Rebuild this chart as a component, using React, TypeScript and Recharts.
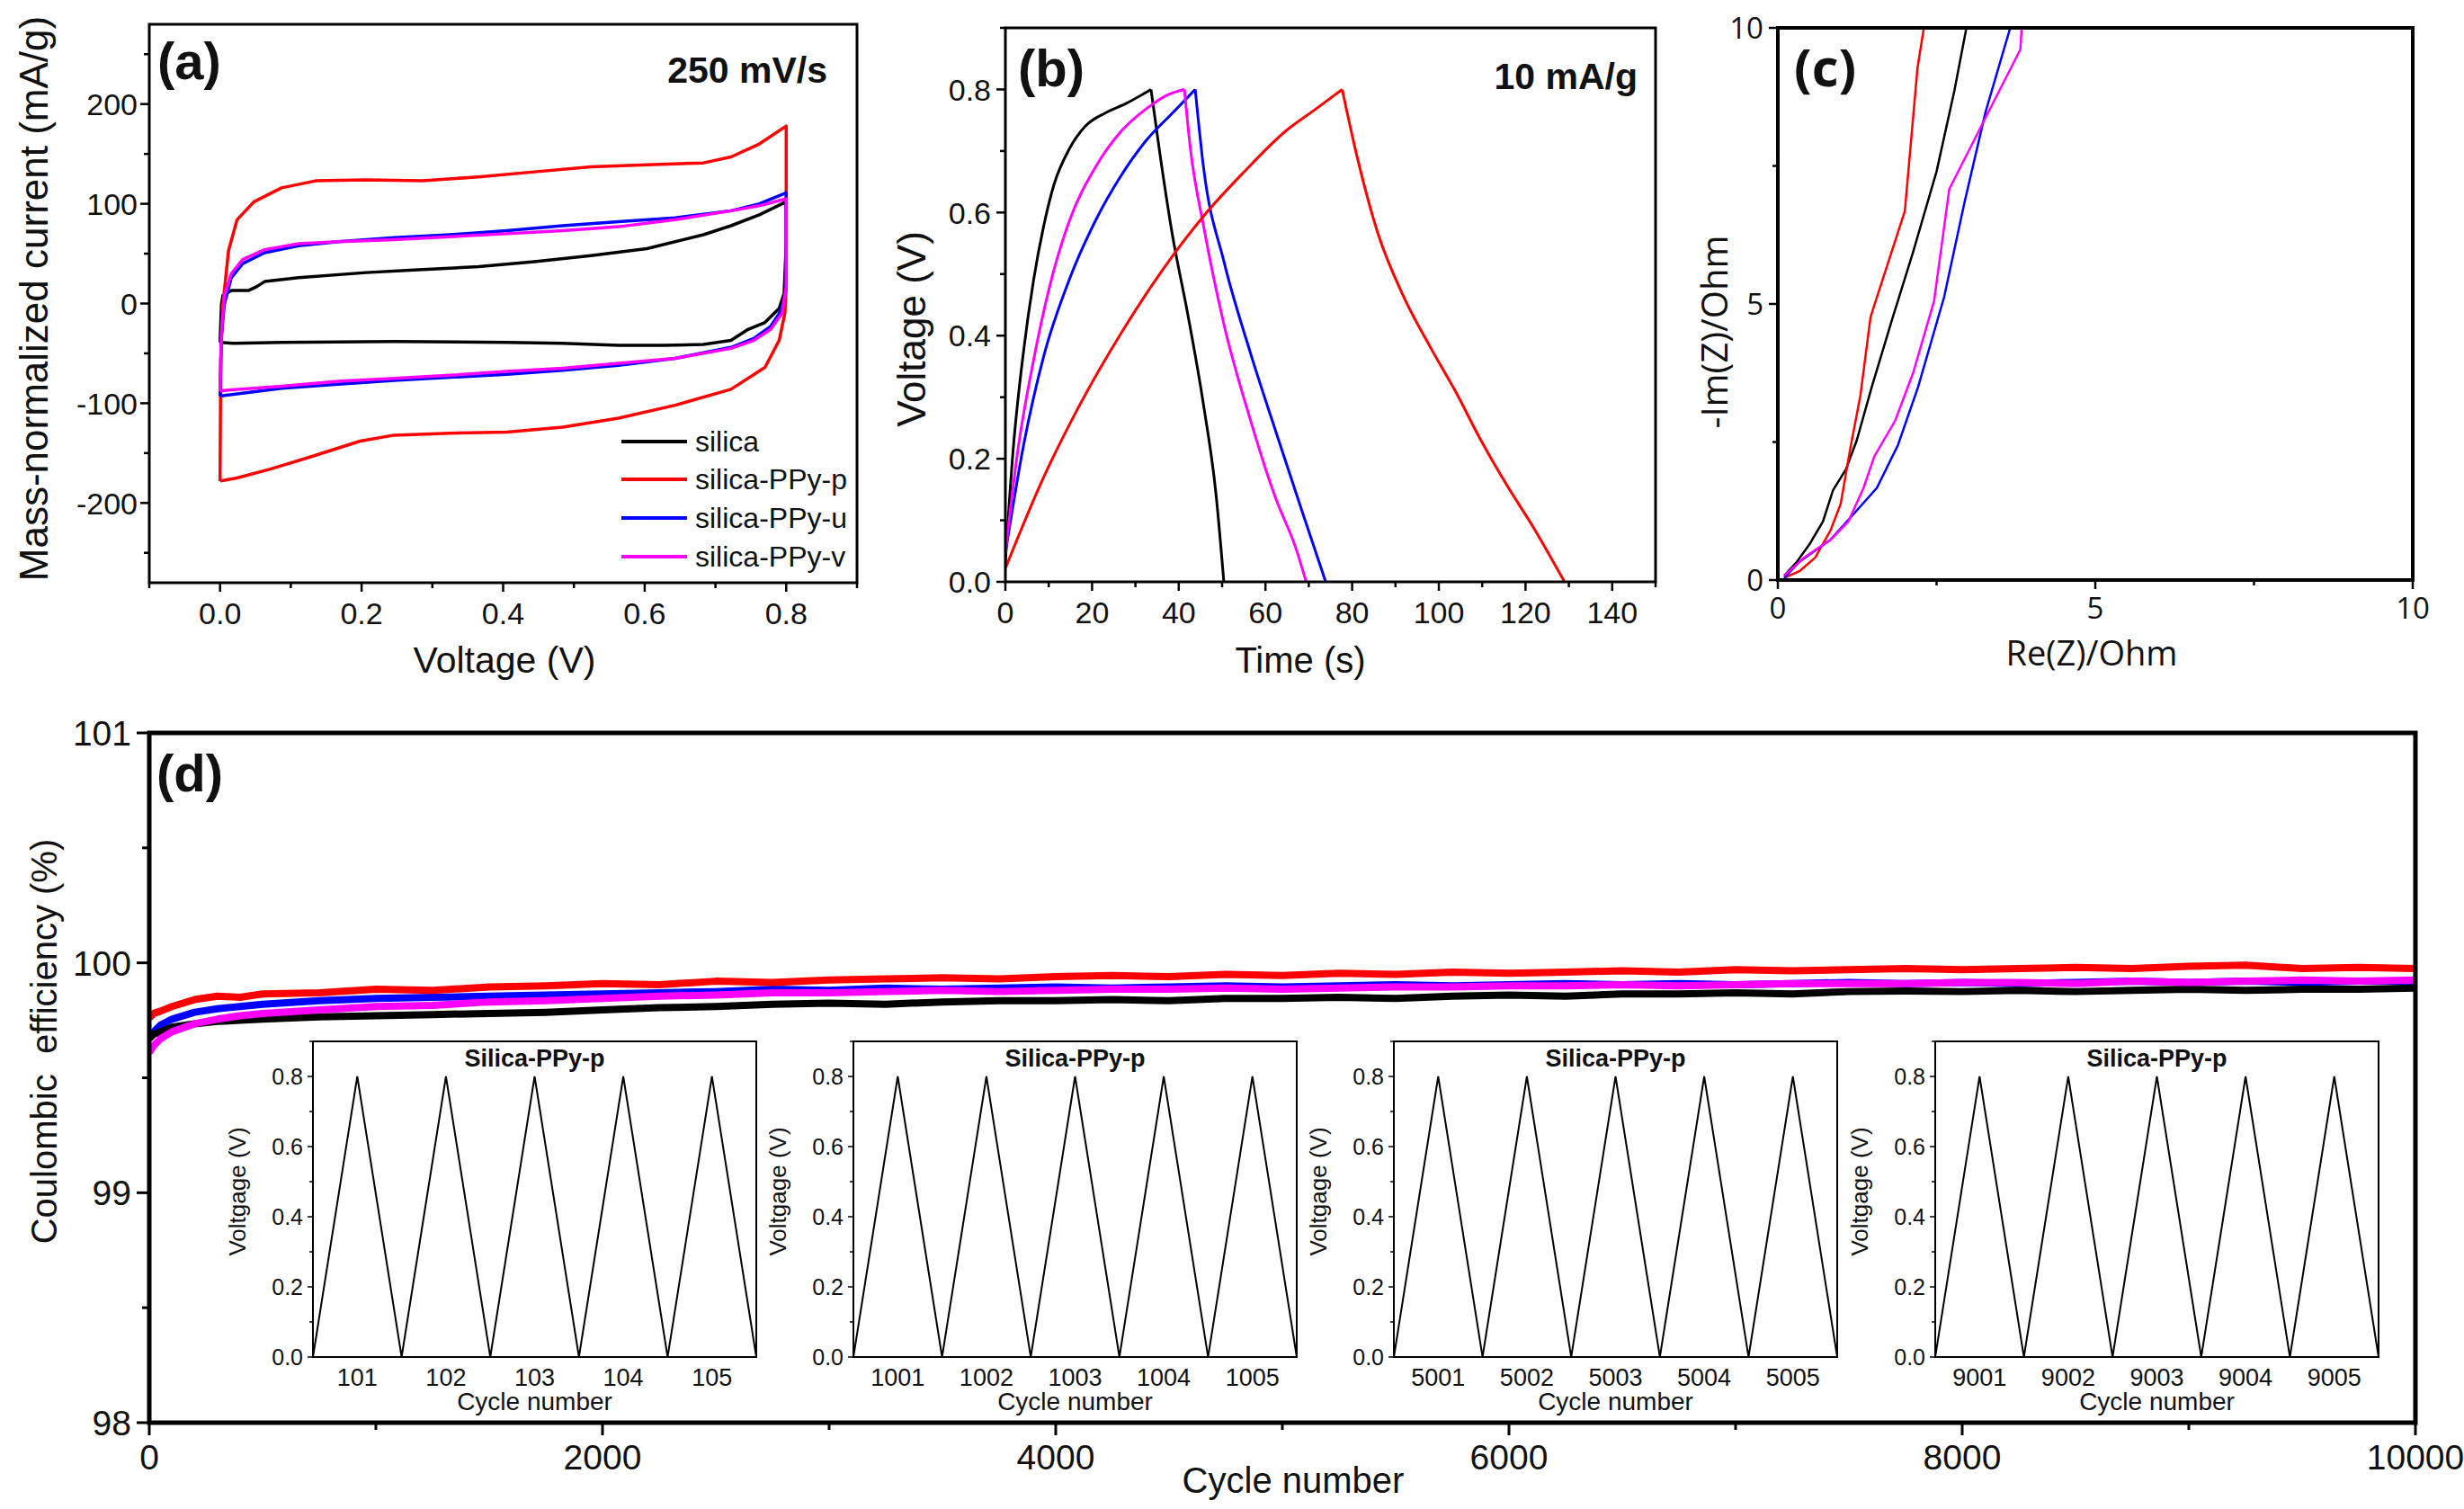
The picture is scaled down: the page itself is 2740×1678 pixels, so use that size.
import { Line, LineChart, XAxis, YAxis } from 'recharts';
import type { ReactNode } from 'react';

const SANS = "'Liberation Sans', Arial, Helvetica, sans-serif";
const OPEN = "'Open Sans', 'Noto Sans', sans-serif";
const INK = '#111';

const seriesNames = ['silica', 'silica-PPy-p', 'silica-PPy-u', 'silica-PPy-v'];
const seriesColors = ['#000000', '#ff0000', '#0000ff', '#ff00ff'];

// (a) cyclic voltammetry at 250 mV/s: voltage (V) and current (mA/g), loop order
const cvSilicaV = [0, 0.002, 0.004, 0.016, 0.04, 0.052, 0.063, 0.111, 0.206, 0.286, 0.365, 0.444, 0.524, 0.603, 0.683, 0.722, 0.762, 0.8, 0.8, 0.797, 0.79, 0.77, 0.746, 0.722, 0.683, 0.627, 0.563, 0.484, 0.405, 0.246, 0.087, 0.02, 0];
const cvSilicaI = [-39, -1, 8, 13, 13, 17, 22, 26, 31, 34, 37, 42, 48, 55, 69, 78, 89, 102, 60, 10, -5, -19, -26, -37, -41, -42, -42, -40, -39, -38, -39, -40, -39];
const cvPV = [0, 0.001, 0.004, 0.012, 0.024, 0.048, 0.087, 0.135, 0.206, 0.286, 0.365, 0.444, 0.524, 0.603, 0.683, 0.722, 0.762, 0.8, 0.8, 0.798, 0.79, 0.77, 0.722, 0.643, 0.563, 0.484, 0.405, 0.325, 0.246, 0.198, 0.127, 0.071, 0.024, 0];
const cvPI = [-178, -55, -1, 53, 84, 102, 116, 123, 124, 123, 127, 132, 137, 139, 141, 147, 160, 178, 17, -10, -37, -64, -86, -102, -115, -124, -129, -130, -132, -138, -154, -166, -175, -178];
const cvUV = [0, 0.002, 0.006, 0.016, 0.032, 0.063, 0.111, 0.167, 0.246, 0.325, 0.405, 0.484, 0.563, 0.643, 0.722, 0.762, 0.8, 0.8, 0.797, 0.79, 0.778, 0.754, 0.722, 0.643, 0.563, 0.484, 0.405, 0.325, 0.246, 0.167, 0.087, 0.008, 0];
const cvUI = [-93, -32, -1, 26, 40, 51, 58, 62, 66, 69, 73, 78, 82, 86, 93, 100, 111, 20, 2, -10, -23, -35, -44, -55, -62, -67, -71, -74, -77, -81, -85, -92, -93];
const cvVV = [0, 0.002, 0.006, 0.016, 0.032, 0.063, 0.111, 0.167, 0.246, 0.325, 0.405, 0.484, 0.563, 0.643, 0.722, 0.762, 0.8, 0.8, 0.794, 0.778, 0.754, 0.722, 0.643, 0.563, 0.484, 0.405, 0.325, 0.246, 0.167, 0.087, 0.008, 0];
const cvVI = [-88, -30, 8, 30, 44, 54, 60, 62, 64, 67, 70, 73, 77, 84, 93, 98, 105, 17, -10, -26, -37, -45, -55, -60, -65, -68, -72, -75, -78, -83, -87, -88];

// (b) charge-discharge at 10 mA/g: time (s) and voltage (V)
const gcdSilicaT = [0, 1.8, 4.2, 6.5, 8.9, 11.2, 14.8, 18.4, 23.1, 27.8, 33.6, 35.5, 38.5, 42.1, 45.7, 48.6, 50.4];
const gcdSilicaV = [0.033, 0.215, 0.375, 0.49, 0.58, 0.645, 0.704, 0.74, 0.762, 0.777, 0.8, 0.703, 0.565, 0.434, 0.288, 0.142, 0];
const gcdPT = [0, 8.9, 17.2, 26.7, 36.2, 45.7, 55.2, 64.6, 71.8, 77.7, 81.2, 86.0, 91.9, 97.9, 103.8, 109.7, 115.7, 121.6, 129.0];
const gcdPV = [0.022, 0.171, 0.288, 0.404, 0.506, 0.594, 0.667, 0.732, 0.769, 0.8, 0.689, 0.565, 0.463, 0.383, 0.31, 0.23, 0.157, 0.091, 0];
const gcdUT = [0, 4.2, 8.9, 14.8, 20.8, 26.7, 32.6, 38.6, 43.8, 45.7, 50.4, 56.4, 62.4, 68.2, 73.9];
const gcdUV = [0.047, 0.222, 0.368, 0.492, 0.587, 0.66, 0.718, 0.762, 0.8, 0.674, 0.521, 0.375, 0.244, 0.12, 0];
const gcdVT = [0, 2.9, 6.5, 10.1, 14.8, 20.8, 26.7, 32.6, 37.4, 41.3, 42.7, 45.7, 50.4, 56.4, 62.4, 67.0, 69.4];
const gcdVV = [0.047, 0.215, 0.36, 0.477, 0.587, 0.674, 0.732, 0.769, 0.791, 0.8, 0.703, 0.579, 0.419, 0.266, 0.135, 0.055, 0];

// (c) Nyquist: Re(Z) and -Im(Z) in Ohm
const eisSilicaRe = [0.1, 0.3, 0.5, 0.71, 0.87, 1.07, 1.24, 1.48, 1.8, 2.13, 2.5, 2.78, 2.97];
const eisSilicaIm = [0.08, 0.33, 0.65, 1.06, 1.63, 2.0, 2.52, 3.5, 4.72, 5.94, 7.4, 8.86, 10];
const eisPRe = [0.1, 0.34, 0.59, 0.83, 0.99, 1.15, 1.3, 1.46, 1.54, 2.0, 2.2, 2.3];
const eisPIm = [0.04, 0.16, 0.41, 0.9, 1.38, 2.44, 3.34, 4.76, 5.05, 6.68, 9.28, 10];
const eisURe = [0.1, 0.34, 0.83, 1.15, 1.56, 1.89, 2.21, 2.62, 2.94, 3.27, 3.66];
const eisUIm = [0.04, 0.33, 0.73, 1.14, 1.67, 2.44, 3.5, 5.13, 6.84, 8.47, 10];
const eisVRe = [0.1, 0.42, 0.83, 1.11, 1.35, 1.52, 1.85, 2.13, 2.46, 2.7, 3.35, 3.82, 3.84];
const eisVIm = [0.08, 0.41, 0.73, 1.06, 1.67, 2.24, 2.89, 3.75, 5.05, 7.08, 8.55, 9.61, 10];

// (d) coulombic efficiency (%) vs cycle number
const cycles = [0, 20, 50, 100, 200, 300, 400, 500, 750, 1000, 1250, 1500, 1750, 2000, 2250, 2500, 2750, 3000, 3250, 3500, 3750, 4000, 4250, 4500, 4750, 5000, 5250, 5500, 5750, 6000, 6250, 6500, 6750, 7000, 7250, 7500, 7750, 8000, 8250, 8500, 8750, 9000, 9250, 9500, 9750, 10000];
const ceSilica = [99.67, 99.69, 99.7, 99.72, 99.735, 99.745, 99.75, 99.755, 99.765, 99.77, 99.775, 99.78, 99.785, 99.795, 99.805, 99.81, 99.82, 99.825, 99.82, 99.83, 99.835, 99.835, 99.84, 99.835, 99.845, 99.845, 99.85, 99.845, 99.855, 99.86, 99.855, 99.865, 99.865, 99.87, 99.865, 99.875, 99.877, 99.875, 99.88, 99.875, 99.88, 99.885, 99.88, 99.885, 99.885, 99.89];
const ceP = [99.76, 99.78, 99.79, 99.81, 99.84, 99.855, 99.85, 99.865, 99.87, 99.885, 99.88, 99.895, 99.9, 99.91, 99.905, 99.92, 99.915, 99.925, 99.93, 99.935, 99.93, 99.94, 99.945, 99.94, 99.95, 99.945, 99.955, 99.95, 99.96, 99.955, 99.96, 99.965, 99.96, 99.97, 99.965, 99.97, 99.975, 99.97, 99.975, 99.98, 99.975, 99.985, 99.99, 99.975, 99.98, 99.975];
const ceU = [99.67, 99.7, 99.73, 99.755, 99.785, 99.8, 99.81, 99.82, 99.835, 99.845, 99.85, 99.855, 99.86, 99.865, 99.87, 99.875, 99.885, 99.88, 99.89, 99.885, 99.89, 99.895, 99.89, 99.895, 99.9, 99.895, 99.9, 99.905, 99.9, 99.905, 99.91, 99.905, 99.91, 99.905, 99.91, 99.915, 99.91, 99.915, 99.91, 99.915, 99.92, 99.915, 99.92, 99.915, 99.92, 99.92];
const ceV = [99.61, 99.64, 99.67, 99.7, 99.735, 99.755, 99.77, 99.78, 99.795, 99.81, 99.815, 99.83, 99.835, 99.845, 99.855, 99.86, 99.87, 99.87, 99.875, 99.88, 99.875, 99.88, 99.885, 99.885, 99.89, 99.885, 99.89, 99.895, 99.895, 99.9, 99.9, 99.905, 99.9, 99.905, 99.91, 99.91, 99.91, 99.915, 99.915, 99.91, 99.92, 99.915, 99.92, 99.925, 99.92, 99.925];

// insets: Silica-PPy-p charge-discharge triangles
const insetVoltage = [0, 0.8, 0, 0.8, 0, 0.8, 0, 0.8, 0, 0.8, 0];
const insetCycles = [
  [100.5, 101, 101.5, 102, 102.5, 103, 103.5, 104, 104.5, 105, 105.5],
  [1000.5, 1001, 1001.5, 1002, 1002.5, 1003, 1003.5, 1004, 1004.5, 1005, 1005.5],
  [5000.5, 5001, 5001.5, 5002, 5002.5, 5003, 5003.5, 5004, 5004.5, 5005, 5005.5],
  [9000.5, 9001, 9001.5, 9002, 9002.5, 9003, 9003.5, 9004, 9004.5, 9005, 9005.5],
];
const insetTickLabels = [
  [101, 102, 103, 104, 105],
  [1001, 1002, 1003, 1004, 1005],
  [5001, 5002, 5003, 5004, 5005],
  [9001, 9002, 9003, 9004, 9005],
];

// tick lists (major + minor)
const cvVoltTicks = [-0.1, 0, 0.1, 0.2, 0.3, 0.4, 0.5, 0.6, 0.7, 0.8, 0.9];
const cvVoltMajor = [0, 0.2, 0.4, 0.6, 0.8];
const cvCurrTicks = [-250, -200, -150, -100, -50, 0, 50, 100, 150, 200, 250];
const cvCurrMajor = [-200, -100, 0, 100, 200];
const gcdTimeTicks = [0, 10, 20, 30, 40, 50, 60, 70, 80, 90, 100, 110, 120, 130, 140, 150];
const gcdTimeMajor = [0, 20, 40, 60, 80, 100, 120, 140];
const voltTicks = [0, 0.1, 0.2, 0.3, 0.4, 0.5, 0.6, 0.7, 0.8, 0.9];
const voltMajor = [0, 0.2, 0.4, 0.6, 0.8];
const ohmTicks = [0, 2.5, 5, 7.5, 10];
const ohmMajor = [0, 5, 10];
const cycleTicks = [0, 1000, 2000, 3000, 4000, 5000, 6000, 7000, 8000, 9000, 10000];
const cycleMajor = [0, 2000, 4000, 6000, 8000, 10000];
const ceTicks = [98, 98.5, 99, 99.5, 100, 100.5, 101];
const ceMajor = [98, 99, 100, 101];

const zip = (xs: number[], ys: number[]) => xs.map((x, i) => ({ x, y: ys[i] }));

// split a charge-discharge run at its top so each branch keeps a sharp peak
const branches = (t: number[], v: number[]) => {
  const top = v.indexOf(Math.max(...v));
  return [zip(t.slice(0, top + 1), v.slice(0, top + 1)), zip(t.slice(top), v.slice(top))];
};

const cvData = [zip(cvSilicaV, cvSilicaI), zip(cvPV, cvPI), zip(cvUV, cvUI), zip(cvVV, cvVI)];
const gcdData = [branches(gcdSilicaT, gcdSilicaV), branches(gcdPT, gcdPV), branches(gcdUT, gcdUV), branches(gcdVT, gcdVV)];
const eisData = [zip(eisSilicaRe, eisSilicaIm), zip(eisPRe, eisPIm), zip(eisURe, eisUIm), zip(eisVRe, eisVIm)];
const ceData = cycles.map((c, i) => ({ cycle: c, s0: ceSilica[i], s1: ceP[i], s2: ceU[i], s3: ceV[i] }));

interface TickStyle {
  side: 'left' | 'bottom';
  major: number[];
  majorLen: number;
  minorLen: number;
  labelOffset: number;
  fontSize: number;
  font: string;
  lineWidth: number;
  format: (v: number) => string;
}

function makeTick(s: TickStyle) {
  return (props: any) => {
    const { x, y, payload } = props;
    const v = payload.value as number;
    const isMajor = s.major.includes(v);
    const len = isMajor ? s.majorLen : s.minorLen;
    if (s.side === 'left') {
      return (
        <g>
          {len > 0 && <line x1={x - len} x2={x} y1={y} y2={y} stroke="#000" strokeWidth={s.lineWidth} />}
          {isMajor && (
            <text x={x - s.labelOffset} y={y + s.fontSize * 0.36} textAnchor="end" fontSize={s.fontSize} fontFamily={s.font} fill={INK}>
              {s.format(v)}
            </text>
          )}
        </g>
      );
    }
    return (
      <g>
        {len > 0 && <line x1={x} x2={x} y1={y} y2={y + len} stroke="#000" strokeWidth={s.lineWidth} />}
        {isMajor && (
          <text x={x} y={y + s.labelOffset} textAnchor="middle" fontSize={s.fontSize} fontFamily={s.font} fill={INK}>
            {s.format(v)}
          </text>
        )}
      </g>
    );
  };
}

interface Box { x: number; y: number; w: number; h: number }
const PAD_T = 40;
const PAD_R = 70;

const boxA: Box = { x: 166, y: 27, w: 787, h: 621 };
const boxB: Box = { x: 1118, y: 31, w: 723, h: 616 };
const boxC: Box = { x: 1977, y: 31, w: 706, h: 614 };
const boxD: Box = { x: 166, y: 815, w: 2520, h: 767 };
const insetBoxes: Box[] = [348, 949, 1550, 2152].map((x) => ({ x, y: 1158, w: 493, h: 351 }));

function Panel({ box, yw, xh, data, children }: { box: Box; yw: number; xh: number; data?: any[]; children: ReactNode }) {
  return (
    <div style={{ position: 'absolute', left: box.x - yw, top: box.y - PAD_T }}>
      <LineChart width={yw + box.w + PAD_R} height={PAD_T + box.h + xh} data={data} margin={{ top: PAD_T, right: PAD_R, bottom: 0, left: 0 }}>
        {children}
      </LineChart>
    </div>
  );
}

const fmt1 = (v: number) => v.toFixed(1);
const fmt0 = (v: number) => String(v);

function VText({ x, y, size, font, children }: { x: number; y: number; size: number; font: string; children: ReactNode }) {
  return (
    <text transform={`translate(${x},${y}) rotate(-90)`} textAnchor="middle" fontSize={size} fontFamily={font} fill={INK} style={{ whiteSpace: 'pre' }}>
      {children}
    </text>
  );
}

function Frame({ box, w }: { box: Box; w: number }) {
  return <rect x={box.x} y={box.y} width={box.w} height={box.h} fill="none" stroke="#000" strokeWidth={w} />;
}

const legendRows = [491, 533, 576, 619];

export default function App() {
  return (
    <div style={{ position: 'absolute', left: 0, top: 0, width: 2740, height: 1678, background: '#fff', overflow: 'hidden' }}>
      {/* (a) CV */}
      <Panel box={boxA} yw={100} xh={60}>
        <XAxis type="number" dataKey="x" domain={[-0.1, 0.9]} ticks={cvVoltTicks} interval={0} allowDataOverflow height={60}
          tickSize={0} tickMargin={0} axisLine={false} tickLine={false}
          tick={makeTick({ side: 'bottom', major: cvVoltMajor, majorLen: 10, minorLen: 6, labelOffset: 46, fontSize: 34, font: SANS, lineWidth: 2.5, format: fmt1 })} />
        <YAxis type="number" domain={[-280, 280]} ticks={cvCurrTicks} interval={0} allowDataOverflow width={100}
          tickSize={0} tickMargin={0} axisLine={false} tickLine={false}
          tick={makeTick({ side: 'left', major: cvCurrMajor, majorLen: 10, minorLen: 6, labelOffset: 13, fontSize: 34, font: SANS, lineWidth: 2.5, format: fmt0 })} />
        {cvData.map((d, i) => (
          <Line key={seriesNames[i]} name={seriesNames[i]} data={d} dataKey="y" type="linear" stroke={seriesColors[i]} strokeWidth={3.5} strokeLinejoin="round" dot={false} isAnimationActive={false} />
        ))}
      </Panel>

      {/* (b) GCD */}
      <Panel box={boxB} yw={80} xh={60}>
        <XAxis type="number" dataKey="x" domain={[0, 150]} ticks={gcdTimeTicks} interval={0} allowDataOverflow height={60}
          tickSize={0} tickMargin={0} axisLine={false} tickLine={false}
          tick={makeTick({ side: 'bottom', major: gcdTimeMajor, majorLen: 10, minorLen: 6, labelOffset: 46, fontSize: 34, font: SANS, lineWidth: 2.5, format: fmt0 })} />
        <YAxis type="number" domain={[0, 0.9]} ticks={voltTicks} interval={0} allowDataOverflow width={80}
          tickSize={0} tickMargin={0} axisLine={false} tickLine={false}
          tick={makeTick({ side: 'left', major: voltMajor, majorLen: 10, minorLen: 6, labelOffset: 16, fontSize: 34, font: SANS, lineWidth: 2.5, format: fmt1 })} />
        {[0, 2, 3, 1].flatMap((i) =>
          gcdData[i].map((d, j) => (
            <Line key={`${seriesNames[i]}-${j}`} name={seriesNames[i]} data={d} dataKey="y" type="monotone" stroke={seriesColors[i]} strokeWidth={3} dot={false} isAnimationActive={false} />
          )),
        )}
      </Panel>

      {/* (c) EIS */}
      <Panel box={boxC} yw={70} xh={60}>
        <XAxis type="number" dataKey="x" domain={[0, 10]} ticks={ohmTicks} interval={0} allowDataOverflow height={60}
          tickSize={0} tickMargin={0} axisLine={false} tickLine={false}
          tick={makeTick({ side: 'bottom', major: ohmMajor, majorLen: 10, minorLen: 6, labelOffset: 43, fontSize: 33, font: OPEN, lineWidth: 2.5, format: fmt0 })} />
        <YAxis type="number" domain={[0, 10]} ticks={ohmTicks} interval={0} allowDataOverflow width={70}
          tickSize={0} tickMargin={0} axisLine={false} tickLine={false}
          tick={makeTick({ side: 'left', major: ohmMajor, majorLen: 10, minorLen: 6, labelOffset: 16, fontSize: 33, font: OPEN, lineWidth: 2.5, format: fmt0 })} />
        {eisData.map((d, i) => (
          <Line key={seriesNames[i]} name={seriesNames[i]} data={d} dataKey="y" type="linear" stroke={seriesColors[i]} strokeWidth={2.5} dot={false} isAnimationActive={false} />
        ))}
      </Panel>

      {/* (d) coulombic efficiency */}
      <Panel box={boxD} yw={110} xh={70} data={ceData}>
        <XAxis type="number" dataKey="cycle" domain={[0, 10000]} ticks={cycleTicks} interval={0} allowDataOverflow height={70}
          tickSize={0} tickMargin={0} axisLine={false} tickLine={false}
          tick={makeTick({ side: 'bottom', major: cycleMajor, majorLen: 14, minorLen: 8, labelOffset: 52, fontSize: 39, font: SANS, lineWidth: 3, format: fmt0 })} />
        <YAxis type="number" domain={[98, 101]} ticks={ceTicks} interval={0} allowDataOverflow width={110}
          tickSize={0} tickMargin={0} axisLine={false} tickLine={false}
          tick={makeTick({ side: 'left', major: ceMajor, majorLen: 14, minorLen: 8, labelOffset: 20, fontSize: 39, font: SANS, lineWidth: 3, format: fmt0 })} />
        {[2, 0, 3, 1].map((i) => (
          <Line key={seriesNames[i]} name={seriesNames[i]} dataKey={`s${i}`} type="linear" stroke={seriesColors[i]} strokeWidth={8} strokeLinejoin="round" dot={false} isAnimationActive={false} />
        ))}
      </Panel>

      {/* (d) insets */}
      {insetBoxes.map((b, k) => {
        const xs = insetCycles[k];
        return (
          <Panel key={k} box={b} yw={60} xh={40}>
            <XAxis type="number" dataKey="x" domain={[xs[0], xs[xs.length - 1]]} ticks={insetTickLabels[k]} interval={0} allowDataOverflow height={40}
              tickSize={0} tickMargin={0} axisLine={false} tickLine={false}
              tick={makeTick({ side: 'bottom', major: insetTickLabels[k], majorLen: 0, minorLen: 0, labelOffset: 32, fontSize: 27, font: SANS, lineWidth: 1.5, format: fmt0 })} />
            <YAxis type="number" domain={[0, 0.9]} ticks={voltTicks} interval={0} allowDataOverflow width={60}
              tickSize={0} tickMargin={0} axisLine={false} tickLine={false}
              tick={makeTick({ side: 'left', major: voltMajor, majorLen: 6, minorLen: 4, labelOffset: 11, fontSize: 25, font: SANS, lineWidth: 1.5, format: fmt1 })} />
            <Line name="Silica-PPy-p" data={zip(xs, insetVoltage)} dataKey="y" type="linear" stroke="#000" strokeWidth={2} dot={false} isAnimationActive={false} />
          </Panel>
        );
      })}

      {/* frames, titles and annotations */}
      <svg width={2740} height={1678} style={{ position: 'absolute', left: 0, top: 0, pointerEvents: 'none' }}>
        <Frame box={boxA} w={3} />
        <Frame box={boxB} w={3} />
        <Frame box={boxC} w={4} />
        <Frame box={boxD} w={5} />
        {insetBoxes.map((b, k) => <Frame key={k} box={b} w={2} />)}

        <text x={175} y={88} fontSize={58} fontWeight="bold" fontFamily={SANS} fill={INK}>(a)</text>
        <text x={920} y={92} textAnchor="end" fontSize={41} fontWeight="bold" fontFamily={SANS} fill={INK}>250 mV/s</text>
        <VText x={53} y={332} size={44} font={SANS}>Mass-normalized current (mA/g)</VText>
        <text x={561} y={748} textAnchor="middle" fontSize={41} fontFamily={SANS} fill={INK}>Voltage (V)</text>
        {legendRows.map((cy, i) => (
          <g key={i}>
            <line x1={691} x2={764} y1={cy} y2={cy} stroke={seriesColors[i]} strokeWidth={4} />
            <text x={773} y={cy + 11} fontSize={32} fontFamily={SANS} fill={INK}>{seriesNames[i]}</text>
          </g>
        ))}

        <text x={1132} y={96} fontSize={58} fontWeight="bold" fontFamily={SANS} fill={INK}>(b)</text>
        <text x={1821} y={99} textAnchor="end" fontSize={41} fontWeight="bold" fontFamily={SANS} fill={INK}>10 mA/g</text>
        <VText x={1029} y={366} size={44} font={SANS}>Voltage (V)</VText>
        <text x={1446} y={748} textAnchor="middle" fontSize={40} fontFamily={SANS} fill={INK}>Time (s)</text>

        <text x={1995} y={96} fontSize={58} fontWeight="bold" fontFamily={OPEN} fill={INK}>(c)</text>
        <VText x={1921} y={369} size={40} font={OPEN}>-Im(Z)/Ohm</VText>
        <text x={2326} y={740} textAnchor="middle" fontSize={38} fontFamily={OPEN} fill={INK}>Re(Z)/Ohm</text>

        <text x={174} y={880} fontSize={58} fontWeight="bold" fontFamily={SANS} fill={INK}>(d)</text>
        <VText x={63} y={1158} size={40} font={SANS}>{'Coulombic  efficiency (%)'}</VText>
        <text x={1438} y={1660} textAnchor="middle" fontSize={40} fontFamily={SANS} fill={INK}>Cycle number</text>

        {insetBoxes.map((b, k) => (
          <g key={k}>
            <text x={b.x + b.w / 2} y={1186} textAnchor="middle" fontSize={27} fontWeight="bold" fontFamily={SANS} fill={INK}>Silica-PPy-p</text>
            <VText x={b.x - 75} y={1325} size={26} font={SANS}>Voltgage (V)</VText>
            <text x={b.x + b.w / 2} y={1568} textAnchor="middle" fontSize={28} fontFamily={SANS} fill={INK}>Cycle number</text>
          </g>
        ))}
      </svg>
    </div>
  );
}
